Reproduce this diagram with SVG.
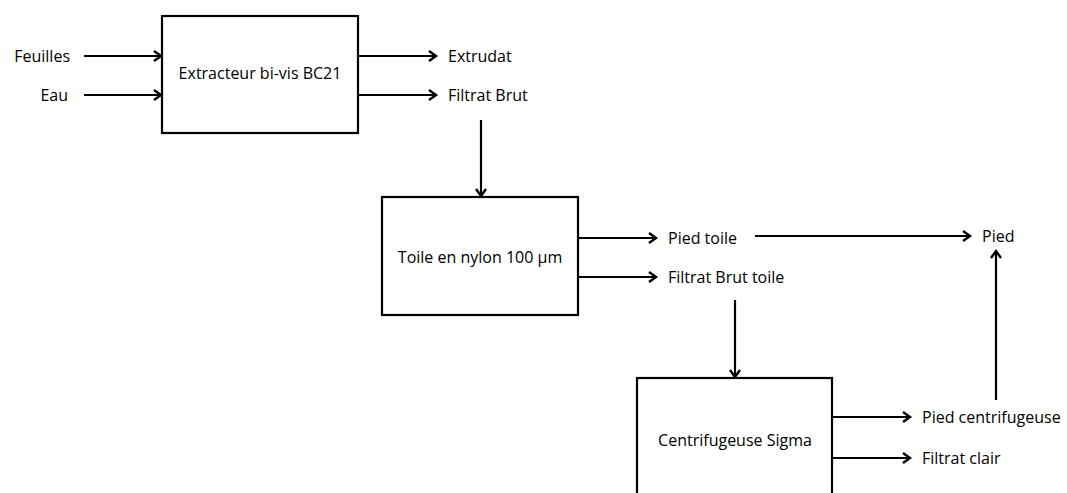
<svg xmlns="http://www.w3.org/2000/svg" width="1067" height="493" viewBox="0 0 1067 493">
<style>
.box{fill:#fff;stroke:#000;stroke-width:2.2}
.ln{stroke:#000;stroke-width:2.2;fill:none;marker-end:url(#ah)}
text{font-family:"Open Sans","Liberation Sans",sans-serif;font-size:16px;fill:#000}
.c{text-anchor:middle}
.e{text-anchor:end}
</style>
<defs>
<marker id="ah" markerWidth="14" markerHeight="14" refX="10" refY="7" orient="auto" markerUnits="userSpaceOnUse">
<polyline points="3,2 10,7 3,12" fill="none" stroke="#000" stroke-width="2.4"/>
</marker>
</defs>
<rect width="1067" height="493" fill="#fff"/>
<g id="connectors">
<line class="ln" x1="84" y1="56" x2="161" y2="56"/>
<line class="ln" x1="84" y1="95" x2="161" y2="95"/>
<line class="ln" x1="359" y1="56" x2="436" y2="56"/>
<line class="ln" x1="359" y1="95" x2="436" y2="95"/>
<line class="ln" x1="481" y1="120" x2="481" y2="196"/>
<line class="ln" x1="579" y1="238" x2="656" y2="238"/>
<line class="ln" x1="579" y1="277" x2="656" y2="277"/>
<line class="ln" x1="755" y1="236" x2="970" y2="236"/>
<line class="ln" x1="735" y1="300" x2="735" y2="377"/>
<line class="ln" x1="833" y1="417" x2="910" y2="417"/>
<line class="ln" x1="833" y1="458" x2="910" y2="458"/>
<line class="ln" x1="996" y1="400" x2="996" y2="251"/>
</g>
<g id="n_feuilles"><text class="e" x="70" y="62">Feuilles</text></g>
<g id="n_eau"><text class="e" x="68" y="101">Eau</text></g>
<g id="n_extracteur"><rect class="box" x="162" y="16" width="196" height="117"/><text class="c" x="260" y="79">Extracteur bi-vis BC21</text></g>
<g id="n_extrudat"><text x="448" y="62">Extrudat</text></g>
<g id="n_filtratbrut"><text x="448" y="101">Filtrat Brut</text></g>
<g id="n_toile"><rect class="box" x="382" y="197" width="196" height="118"/><text class="c" x="480" y="263">Toile en nylon 100 μm</text></g>
<g id="n_piedtoile"><text x="668" y="244">Pied toile</text></g>
<g id="n_filtratbruttoile"><text x="668" y="283">Filtrat Brut toile</text></g>
<g id="n_pied"><text x="982" y="242">Pied</text></g>
<g id="n_centri"><rect class="box" x="637" y="378" width="195" height="125"/><text class="c" x="735" y="446">Centrifugeuse Sigma</text></g>
<g id="n_piedcentri"><text x="922" y="423">Pied centrifugeuse</text></g>
<g id="n_filtratclair"><text x="922" y="464">Filtrat clair</text></g>
</svg>
